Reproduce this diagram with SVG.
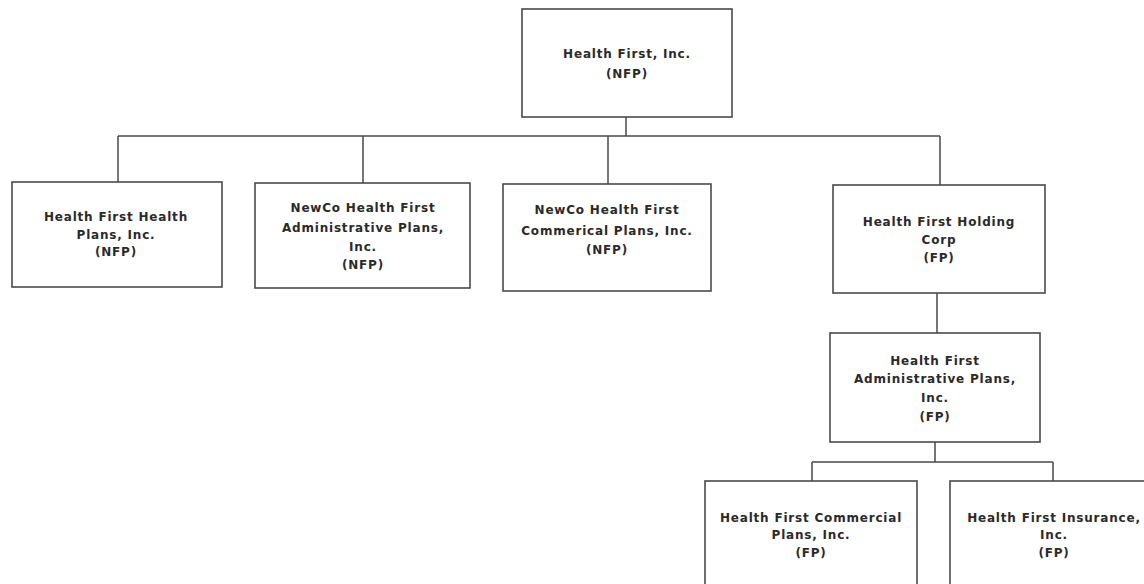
<svg xmlns="http://www.w3.org/2000/svg" width="1144" height="584" viewBox="0 0 1144 584">
<style>
.box{fill:#fff;stroke:#4a4a4a;stroke-width:1.6}
.ln{fill:none;stroke:#4a4a4a;stroke-width:1.5}
text{font-family:"DejaVu Sans","Liberation Sans",sans-serif;font-weight:bold;font-size:12px;letter-spacing:0.8px;fill:#2a2a2a;text-anchor:middle}
</style>
<rect width="1144" height="584" fill="#fff"/>
<g id="connectors">
<path class="ln" d="M626 117V136M118 136H940M118 136V182M363 136V183M608 136V184M940 136V185"/>
<path class="ln" d="M937 293V333"/>
<path class="ln" d="M935 442V462M812 462H1053M812 462V481M1053 462V481"/>
</g>
<g id="n-root">
<rect class="box" x="522" y="9" width="210" height="108"/>
<text x="627" y="58">Health First, Inc.</text>
<text x="627" y="78">(NFP)</text>
</g>
<g id="n-hfhp">
<rect class="box" x="12" y="182" width="210" height="105"/>
<text x="116" y="221">Health First Health</text>
<text x="116" y="239">Plans, Inc.</text>
<text x="116" y="256">(NFP)</text>
</g>
<g id="n-newco-admin">
<rect class="box" x="255" y="183" width="215" height="105"/>
<text x="363" y="212">NewCo Health First</text>
<text x="363" y="232">Administrative Plans,</text>
<text x="363" y="251">Inc.</text>
<text x="363" y="269">(NFP)</text>
</g>
<g id="n-newco-comm">
<rect class="box" x="503" y="184" width="208" height="107"/>
<text x="607" y="214">NewCo Health First</text>
<text x="607" y="235">Commerical Plans, Inc.</text>
<text x="607" y="254">(NFP)</text>
</g>
<g id="n-holding">
<rect class="box" x="833" y="185" width="212" height="108"/>
<text x="939" y="226">Health First Holding</text>
<text x="939" y="244">Corp</text>
<text x="939" y="262">(FP)</text>
</g>
<g id="n-admin">
<rect class="box" x="830" y="333" width="210" height="109"/>
<text x="935" y="365">Health First</text>
<text x="935" y="383">Administrative Plans,</text>
<text x="935" y="402">Inc.</text>
<text x="935" y="421">(FP)</text>
</g>
<g id="n-comm">
<rect class="box" x="705" y="481" width="212" height="110"/>
<text x="811" y="522">Health First Commercial</text>
<text x="811" y="539">Plans, Inc.</text>
<text x="811" y="557">(FP)</text>
</g>
<g id="n-ins">
<rect class="box" x="950" y="481" width="200" height="110"/>
<text x="1054" y="522">Health First Insurance,</text>
<text x="1054" y="539">Inc.</text>
<text x="1054" y="557">(FP)</text>
</g>
</svg>
